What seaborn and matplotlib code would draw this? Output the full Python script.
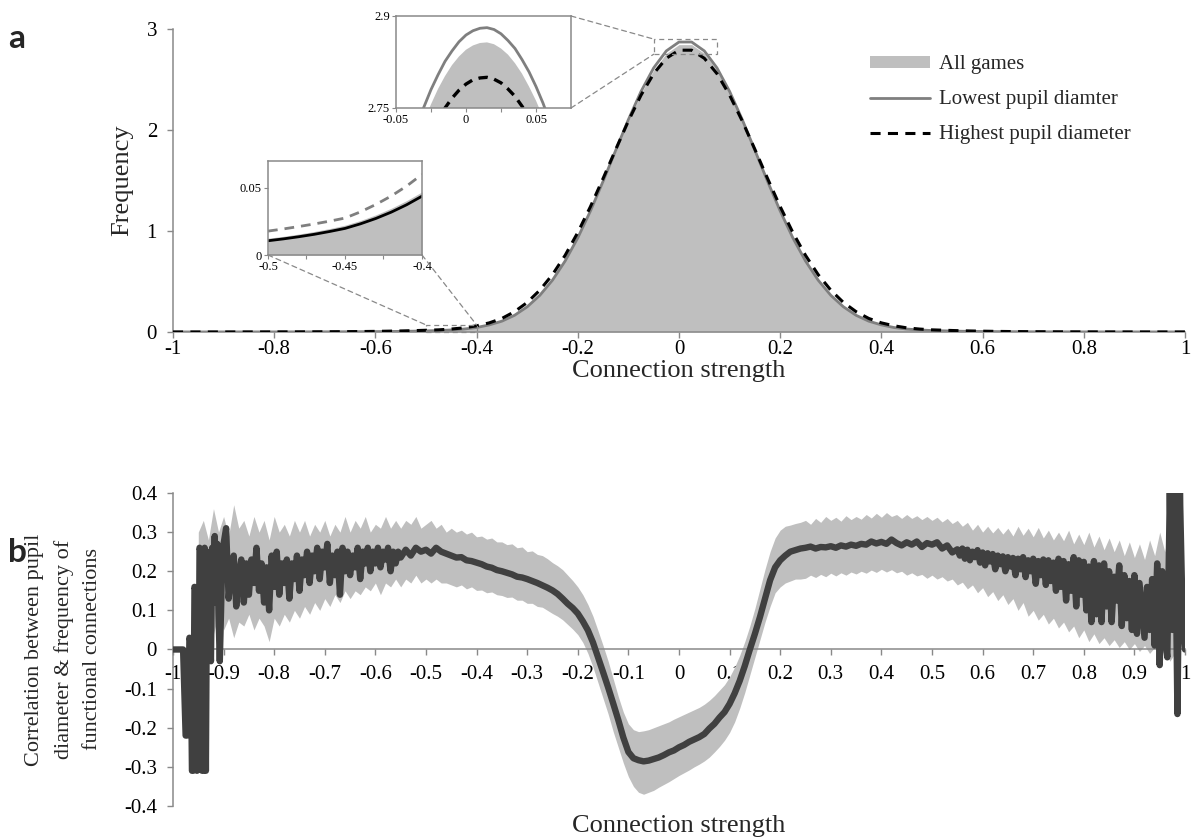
import numpy as np
import matplotlib
matplotlib.use("Agg")
import matplotlib.pyplot as plt
from matplotlib.patches import Rectangle, ConnectionPatch, Patch
from matplotlib.lines import Line2D
import seaborn as sns

# ---------------- Panel a data ----------------
x_a = np.round(np.arange(-40, 41) * 0.025, 3)  # -1 .. 1 step 0.025
all_games = [
    0, 0.0001, 0.0001, 0.0001, 0.0002, 0.0002, 0.0003, 0.0004, 0.0005, 0.0006,
    0.0008, 0.001, 0.0013, 0.0017, 0.0023, 0.003, 0.004, 0.005, 0.007, 0.009,
    0.012, 0.016, 0.022, 0.032, 0.047, 0.075, 0.112, 0.170, 0.254, 0.368,
    0.517, 0.705, 0.932, 1.194, 1.484, 1.787, 2.087, 2.362, 2.592, 2.758,
    2.845,
    2.845, 2.758, 2.592, 2.362, 2.087, 1.787, 1.484, 1.194, 0.932, 0.705,
    0.517, 0.368, 0.254, 0.170, 0.112, 0.075, 0.047, 0.032, 0.022, 0.016,
    0.012, 0.009, 0.007, 0.005, 0.004, 0.003, 0.0023, 0.0017, 0.0013, 0.001,
    0.0008, 0.0006, 0.0005, 0.0004, 0.0003, 0.0002, 0.0002, 0.0001, 0.0001, 0.0001]
lowest_pupil = [
    0, 0, 0.0001, 0.0001, 0.0001, 0.0002, 0.0002, 0.0003, 0.0004, 0.0005,
    0.0007, 0.0009, 0.0012, 0.0015, 0.002, 0.0027, 0.0035, 0.0045, 0.006, 0.008,
    0.011, 0.014, 0.020, 0.029, 0.044, 0.070, 0.107, 0.165, 0.249, 0.363,
    0.513, 0.703, 0.932, 1.198, 1.492, 1.799, 2.103, 2.382, 2.615, 2.783,
    2.871,
    2.871, 2.783, 2.615, 2.382, 2.103, 1.799, 1.492, 1.198, 0.932, 0.703,
    0.513, 0.363, 0.249, 0.165, 0.107, 0.070, 0.044, 0.029, 0.020, 0.014,
    0.011, 0.008, 0.006, 0.0045, 0.0035, 0.0027, 0.002, 0.0015, 0.0012, 0.0009,
    0.0007, 0.0005, 0.0004, 0.0003, 0.0002, 0.0002, 0.0001, 0.0001, 0.0001, 0]
highest_pupil = [
    0, 0.0001, 0.0001, 0.0002, 0.0002, 0.0003, 0.0004, 0.0005, 0.0007, 0.0009,
    0.0012, 0.0015, 0.002, 0.0026, 0.0035, 0.0045, 0.006, 0.008, 0.010, 0.013,
    0.017, 0.021, 0.029, 0.041, 0.061, 0.090, 0.134, 0.201, 0.292, 0.414,
    0.568, 0.759, 0.985, 1.241, 1.520, 1.808, 2.089, 2.345, 2.558, 2.710,
    2.790,
    2.790, 2.710, 2.558, 2.345, 2.089, 1.808, 1.520, 1.241, 0.985, 0.759,
    0.568, 0.414, 0.292, 0.201, 0.134, 0.090, 0.061, 0.041, 0.029, 0.021,
    0.017, 0.013, 0.010, 0.008, 0.006, 0.0045, 0.0035, 0.0026, 0.002, 0.0015,
    0.0012, 0.0009, 0.0007, 0.0005, 0.0004, 0.0003, 0.0002, 0.0002, 0.0001, 0.0001]

# top inset (peak zoom)
x_top = np.round(np.arange(-10, 16) * 0.005, 3)  # -0.05 .. 0.075
all_top = [2.589, 2.628, 2.665, 2.698, 2.729, 2.756, 2.781, 2.802, 2.820, 2.834,
           2.845, 2.852, 2.856, 2.857, 2.854, 2.847, 2.837, 2.823, 2.806, 2.785,
           2.762, 2.735, 2.705, 2.672, 2.636, 2.597]
low_top = [2.611, 2.650, 2.687, 2.721, 2.752, 2.780, 2.804, 2.826, 2.843, 2.858,
           2.869, 2.876, 2.880, 2.881, 2.878, 2.871, 2.860, 2.847, 2.829, 2.809,
           2.785, 2.758, 2.727, 2.694, 2.658, 2.619]
high_top = [2.554, 2.590, 2.624, 2.655, 2.683, 2.708, 2.730, 2.750, 2.766, 2.779,
            2.789, 2.796, 2.799, 2.800, 2.797, 2.791, 2.781, 2.769, 2.753, 2.734,
            2.713, 2.688, 2.660, 2.630, 2.597, 2.562]

# left inset (tail zoom)
x_tail = np.round(np.arange(-50, -39) * 0.01, 2)  # -0.5 .. -0.4
all_tail = [0.0125, 0.0139, 0.0156, 0.0175, 0.0197, 0.0222, 0.0257, 0.0299, 0.0348, 0.0405, 0.0470]
solid_tail = [0.0106, 0.0120, 0.0136, 0.0154, 0.0175, 0.0198, 0.0232, 0.0272, 0.0319, 0.0374, 0.0438]
dashed_tail = [0.0178, 0.0194, 0.0212, 0.0231, 0.0252, 0.0275, 0.0321, 0.0376, 0.0439, 0.0513, 0.0600]

# ---------------- Panel b data ----------------
x_mean = np.concatenate([
    -1.0 + np.arange(5) * 0.005,      # -1.000 .. -0.980
    -0.975 + np.arange(30) * 0.0025,  # -0.975 .. -0.9025
    -0.9 + np.arange(70) * 0.005,     # -0.900 .. -0.555
    -0.55 + np.arange(111) * 0.01,    # -0.55 .. 0.55
    0.555 + np.arange(69) * 0.005,    # 0.555 .. 0.895
    0.9 + np.arange(21) * 0.005])     # 0.900 .. 1.000
mean_corr = [
    # -1.000 .. -0.980
    0, 0, 0, 0, 0,
    # -0.975 .. -0.9025
    -0.22, -0.22, -0.21, 0.03, 0.02, -0.31, -0.31, 0.16, 0.15, -0.31,
    -0.30, 0.26, 0.25, -0.31, -0.31, 0.26, -0.31, 0.25, 0.17, 0.05,
    -0.03, 0.26, 0.15, 0.29, 0.12, 0.27, 0.09, -0.03, 0.10, 0.25,
    # -0.900 .. -0.555
    0.27, 0.31, 0.13, 0.20, 0.24, 0.11, 0.19, 0.23, 0.12, 0.22,
    0.14, 0.23, 0.17, 0.26, 0.15, 0.22, 0.12, 0.21, 0.10, 0.24,
    0.16, 0.25, 0.14, 0.22, 0.17, 0.23, 0.13, 0.22, 0.18, 0.24,
    0.15, 0.23, 0.19, 0.25, 0.17, 0.24, 0.20, 0.26, 0.18, 0.25,
    0.21, 0.27, 0.17, 0.24, 0.19, 0.25, 0.14, 0.26, 0.20, 0.25,
    0.19, 0.24, 0.21, 0.26, 0.18, 0.25, 0.22, 0.26, 0.20, 0.25,
    0.22, 0.26, 0.21, 0.25, 0.23, 0.26, 0.20, 0.25, 0.22, 0.25,
    # -0.55 .. 0.55
    0.235, 0.255, 0.24, 0.26, 0.25, 0.255, 0.245, 0.26, 0.25, 0.245,
    0.24, 0.235, 0.236, 0.228, 0.226, 0.222, 0.218, 0.212, 0.209, 0.203,
    0.200, 0.196, 0.192, 0.186, 0.184, 0.180, 0.175, 0.170, 0.164, 0.158,
    0.151, 0.142, 0.130, 0.117, 0.106, 0.092, 0.072, 0.049, 0.018, -0.020,
    -0.058, -0.097, -0.138, -0.180, -0.225, -0.262, -0.278, -0.283, -0.286, -0.284,
    -0.280, -0.276, -0.270, -0.263, -0.258, -0.250, -0.244, -0.236, -0.230, -0.224,
    -0.216, -0.202, -0.190, -0.174, -0.160, -0.139, -0.112, -0.080, -0.042, 0.000,
    0.040, 0.083, 0.130, 0.177, 0.210, 0.228, 0.240, 0.250, 0.254, 0.258,
    0.260, 0.263, 0.258, 0.262, 0.261, 0.264, 0.260, 0.266, 0.263, 0.268,
    0.265, 0.270, 0.268, 0.276, 0.271, 0.275, 0.270, 0.281, 0.272, 0.266,
    0.274, 0.268, 0.276, 0.262, 0.272, 0.268, 0.274, 0.258, 0.266, 0.248,
    0.256,
    # 0.555 .. 0.895
    0.240, 0.258, 0.232, 0.255, 0.228, 0.250, 0.236, 0.254, 0.222, 0.248,
    0.215, 0.246, 0.225, 0.244, 0.205, 0.240, 0.218, 0.238, 0.200, 0.236,
    0.212, 0.234, 0.190, 0.232, 0.205, 0.236, 0.185, 0.228, 0.200, 0.232,
    0.168, 0.226, 0.190, 0.230, 0.165, 0.228, 0.175, 0.222, 0.150, 0.232,
    0.160, 0.226, 0.125, 0.218, 0.150, 0.236, 0.110, 0.228, 0.140, 0.224,
    0.100, 0.212, 0.070, 0.226, 0.090, 0.215, 0.070, 0.220, 0.110, 0.200,
    0.070, 0.186, 0.125, 0.215, 0.060, 0.190, 0.080, 0.175, 0.050,
    # 0.900 .. 1.000
    0.190, 0.040, 0.170, 0.100, 0.030, 0.160, 0.050, 0.180, 0.010, 0.220,
    -0.040, 0.200, 0.040, -0.020, 0.400, 0.050, 0.400, -0.165, 0.400, 0.100,
    0.000]

x_band = np.round(np.arange(-95, 99) * 0.01, 2)  # -0.95 .. 0.98
band_hi = [
    0.30, 0.33, 0.28, 0.36, 0.30, 0.34, 0.29, 0.37, 0.31, 0.33,
    0.29, 0.34, 0.30, 0.33, 0.28, 0.34, 0.30, 0.32, 0.29, 0.33,
    0.30, 0.33, 0.29, 0.32, 0.30, 0.33, 0.29, 0.32, 0.30, 0.34,
    0.30, 0.33, 0.31, 0.34, 0.30, 0.32, 0.31, 0.34, 0.31, 0.33,
    0.31, 0.33, 0.32, 0.34, 0.31, 0.32, 0.33, 0.31, 0.32, 0.30,
    0.31, 0.30, 0.305, 0.295, 0.30, 0.288, 0.29, 0.282, 0.285, 0.275,
    0.275, 0.268, 0.27, 0.26, 0.262, 0.25, 0.252, 0.243, 0.24, 0.232,
    0.222, 0.214, 0.204, 0.19, 0.176, 0.16, 0.14, 0.115, 0.085, 0.048,
    0.01, -0.03, -0.075, -0.12, -0.16, -0.19, -0.205, -0.21, -0.208, -0.205,
    -0.20, -0.195, -0.19, -0.185, -0.178, -0.172, -0.166, -0.16, -0.154, -0.148,
    -0.14, -0.13, -0.118, -0.104, -0.09, -0.07, -0.045, -0.015, 0.02, 0.06,
    0.105, 0.155, 0.205, 0.25, 0.285, 0.305, 0.315, 0.318, 0.322, 0.325,
    0.33, 0.32, 0.335, 0.325, 0.34, 0.33, 0.338, 0.328, 0.342, 0.332,
    0.34, 0.333, 0.345, 0.336, 0.348, 0.338, 0.35, 0.34, 0.345, 0.335,
    0.345, 0.335, 0.342, 0.332, 0.34, 0.33, 0.338, 0.326, 0.335, 0.322,
    0.33, 0.315, 0.325, 0.305, 0.32, 0.3, 0.315, 0.298, 0.312, 0.295,
    0.31, 0.29, 0.315, 0.292, 0.31, 0.288, 0.312, 0.285, 0.305, 0.28,
    0.3, 0.278, 0.305, 0.27, 0.295, 0.268, 0.3, 0.262, 0.29, 0.255,
    0.285, 0.25, 0.28, 0.24, 0.275, 0.235, 0.27, 0.23, 0.28, 0.24,
    0.3, 0.25, 0.32, 0.26]
band_lo = [
    0.12, 0.06, 0.10, 0.04, 0.09, 0.05, 0.08, 0.03, 0.07, 0.06,
    0.09, 0.05, 0.08, 0.06, 0.02, 0.08, 0.06, 0.09, 0.07, 0.10,
    0.08, 0.11, 0.09, 0.12, 0.10, 0.13, 0.11, 0.14, 0.12, 0.15,
    0.13, 0.15, 0.14, 0.16, 0.15, 0.17, 0.14, 0.17, 0.16, 0.18,
    0.16, 0.18, 0.17, 0.19, 0.17, 0.18, 0.17, 0.18, 0.17, 0.17,
    0.165, 0.16, 0.165, 0.155, 0.16, 0.151, 0.152, 0.145, 0.147, 0.14,
    0.138, 0.133, 0.134, 0.126, 0.126, 0.118, 0.118, 0.11, 0.108, 0.1,
    0.092, 0.085, 0.076, 0.064, 0.052, 0.038, 0.018, -0.01, -0.045, -0.085,
    -0.125, -0.165, -0.21, -0.25, -0.29, -0.325, -0.35, -0.365, -0.37, -0.365,
    -0.36, -0.352, -0.345, -0.338, -0.33, -0.322, -0.315, -0.308, -0.3, -0.293,
    -0.285, -0.275, -0.262, -0.248, -0.232, -0.212, -0.185, -0.15, -0.11, -0.065,
    -0.02, 0.025, 0.07, 0.11, 0.145, 0.16, 0.17, 0.175, 0.18, 0.18,
    0.182, 0.19, 0.184, 0.192, 0.186, 0.195, 0.188, 0.196, 0.19, 0.198,
    0.193, 0.2, 0.195, 0.203, 0.197, 0.205, 0.198, 0.204, 0.196, 0.2,
    0.19, 0.196, 0.188, 0.192, 0.182, 0.19, 0.18, 0.186, 0.175, 0.18,
    0.165, 0.172, 0.155, 0.165, 0.145, 0.158, 0.135, 0.148, 0.125, 0.14,
    0.115, 0.13, 0.1, 0.12, 0.085, 0.1, 0.075, 0.09, 0.065, 0.08,
    0.055, 0.07, 0.045, 0.06, 0.03, 0.05, 0.02, 0.04, 0.015, 0.03,
    0.01, 0.025, 0.005, 0.02, 0.0, 0.015, -0.005, 0.01, -0.01, 0.005,
    -0.02, 0.0, -0.03, -0.01]

xticks_a = [-1, -0.8, -0.6, -0.4, -0.2, 0, 0.2, 0.4, 0.6, 0.8, 1]
yticks_a = [0, 1, 2, 3]
xticks_b = np.round(np.arange(-10, 11) * 0.1, 1)
yticks_b = np.round(np.arange(-4, 5) * 0.1, 1)

legend_labels = ["All games", "Lowest pupil diamter", "Highest pupil diameter"]

assert len(all_games) == len(x_a) == len(lowest_pupil) == len(highest_pupil)
assert len(mean_corr) == len(x_mean), (len(mean_corr), len(x_mean))
assert len(band_hi) == len(band_lo) == len(x_band)

# ---------------- style ----------------
sns.set_theme(style="white")
plt.rcParams['font.family'] = ['Liberation Serif', 'DejaVu Serif']
FILL = '#bfbfbf'
GRAYLINE = '#7f7f7f'
DARK = '#404040'
SPINE = '#898989'

def fmt(v):
    return f"{v:g}"

fig = plt.figure(figsize=(11.93, 8.4), dpi=100)

def style_axes(ax, fs=15, length=4.5, xpad=2, ypad=7):
    for s in ['top', 'right']:
        ax.spines[s].set_visible(False)
    for s in ['left', 'bottom']:
        ax.spines[s].set_color(SPINE)
        ax.spines[s].set_linewidth(1.1)
    ax.tick_params(axis='both', which='both', direction='out', color=SPINE,
                   width=1.0, length=length, labelsize=fs, labelcolor='black')
    ax.tick_params(axis='x', pad=xpad, bottom=True)
    ax.tick_params(axis='y', pad=ypad, left=True)

# ---------------- Panel a ----------------
ax = fig.add_axes([0.145, 0.6048, 0.8483, 0.3607])
ax.fill_between(x_a, all_games, 0, color=FILL, lw=0, zorder=1)
sns.lineplot(x=x_a, y=lowest_pupil, ax=ax, color=GRAYLINE, lw=2.0, legend=False, zorder=2)
sns.lineplot(x=x_a, y=highest_pupil, ax=ax, color='black', lw=2.2,
             linestyle=(0, (3.3, 2.4)), legend=False, zorder=3)
ax.set_xlim(-1, 1)
ax.set_ylim(0, 3)
ax.set_xticks(xticks_a)
ax.set_xticklabels([fmt(v) for v in xticks_a])
ax.set_yticks(yticks_a)
ax.set_yticklabels([fmt(v) for v in yticks_a])
style_axes(ax, xpad=1)
ax.set_xlabel("Connection strength", fontsize=19)
ax.xaxis.set_label_coords(0.5, -0.093)
ax.xaxis.label.set_va('top')
ax.set_ylabel("Frequency", fontsize=19)
ax.yaxis.set_label_coords(-0.0395, 0.5)

handles = [Patch(facecolor=FILL, edgecolor='none'),
           Line2D([], [], color=GRAYLINE, lw=2.0),
           Line2D([], [], color='black', lw=2.2, linestyle=(0, (3.3, 2.4)))]
ax.legend(handles, legend_labels, loc='upper left', bbox_to_anchor=(870 / 1193, 1 - 55 / 840),
          bbox_transform=fig.transFigure, frameon=False, fontsize=15, handlelength=2.9,
          handleheight=0.5, handletextpad=0.4, labelspacing=0.78, borderpad=0, borderaxespad=0)

# dashed zoom rectangles on main axes
ax.add_patch(Rectangle((-0.05, 2.75), 0.125, 0.15, fill=False, ec=SPINE, lw=0.9,
                       ls=(0, (4, 3)), zorder=4))
ax.add_patch(Rectangle((-0.5, 0.0), 0.1, 0.07, fill=False, ec=SPINE, lw=0.9,
                       ls=(0, (4, 3)), zorder=4, clip_on=False))

def style_inset(axi):
    for s in axi.spines.values():
        s.set_visible(True)
        s.set_color(SPINE)
        s.set_linewidth(1.1)
    axi.set_facecolor('white')
    axi.tick_params(axis='both', which='both', direction='out', color=SPINE, width=0.8,
                    length=3, labelsize=9, pad=1.5, labelcolor='black')
    axi.tick_params(axis='x', bottom=True)
    axi.tick_params(axis='y', left=True)

# top inset
ax_t = fig.add_axes([396 / 1193, 1 - 108 / 840, 175 / 1193, 92 / 840])
ax_t.fill_between(x_top, all_top, 0, color=FILL, lw=0)
sns.lineplot(x=x_top, y=low_top, ax=ax_t, color=GRAYLINE, lw=2.0, legend=False)
sns.lineplot(x=x_top, y=high_top, ax=ax_t, color='black', lw=2.4,
             linestyle=(0, (2.8, 2.0)), legend=False)
ax_t.set_xlim(-0.05, 0.075)
ax_t.set_ylim(2.75, 2.9)
ax_t.set_xticks([-0.05, -0.025, 0, 0.025, 0.05])
ax_t.set_xticklabels(['-0.05', '', '0', '', '0.05'])
ax_t.set_yticks([2.75, 2.9])
ax_t.set_yticklabels(['2.75', '2.9'])
style_inset(ax_t)

# left inset
ax_l = fig.add_axes([268 / 1193, 1 - 255 / 840, 154 / 1193, 94 / 840])
ax_l.fill_between(x_tail, all_tail, 0, color=FILL, lw=0)
sns.lineplot(x=x_tail, y=dashed_tail, ax=ax_l, color=GRAYLINE, lw=2.0,
             linestyle=(0, (3.5, 2.5)), legend=False)
sns.lineplot(x=x_tail, y=solid_tail, ax=ax_l, color='black', lw=2.0, legend=False)
ax_l.set_xlim(-0.5, -0.4)
ax_l.set_ylim(0, 0.07)
ax_l.set_xticks([-0.5, -0.475, -0.45, -0.425, -0.4])
ax_l.set_xticklabels(['-0.5', '', '-0.45', '', '-0.4'])
ax_l.set_yticks([0, 0.05])
ax_l.set_yticklabels(['0', '0.05'])
style_inset(ax_l)

for (axi, xyA, xyB) in [(ax_t, (1, 1), (-0.05, 2.9)), (ax_t, (1, 0), (-0.05, 2.75)),
                        (ax_l, (0, 0), (-0.5, 0.07)), (ax_l, (1, 0), (-0.4, 0.07))]:
    cp = ConnectionPatch(xyA=xyA, coordsA=axi.transAxes, xyB=xyB, coordsB=ax.transData,
                         color=SPINE, lw=0.9, ls=(0, (4, 3)))
    fig.add_artist(cp)

# ---------------- Panel b ----------------
axb = fig.add_axes([0.145, 0.0405, 0.8483, 0.3726])
axb.fill_between(x_band, band_lo, band_hi, color=FILL, lw=0, zorder=1)
sns.lineplot(x=x_mean, y=mean_corr, ax=axb, color=DARK, lw=4.6, sort=False,
             estimator=None, legend=False, zorder=3,
             solid_capstyle='round', solid_joinstyle='round')
axb.set_xlim(-1, 1)
axb.set_ylim(-0.4, 0.4)
axb.set_xticks(xticks_b)
axb.set_xticklabels([fmt(v) for v in xticks_b])
axb.set_yticks(yticks_b)
axb.set_yticklabels([fmt(v) for v in yticks_b])
style_axes(axb, xpad=6.5)
axb.spines['bottom'].set_position(('data', 0))
axb.spines['bottom'].set_zorder(2)
axb.set_xlabel("Connection strength", fontsize=19)
axb.xaxis.set_label_coords(0.5, -0.03)
axb.xaxis.label.set_va('top')
axb.set_ylabel("Correlation between pupil\ndiameter & frequency of\nfunctional connections",
               fontsize=16, linespacing=1.65)
axb.yaxis.set_label_coords(-0.07, 0.5)

# panel letters
fig.text(8 / 1193, 1 - 48 / 840, 'a', fontsize=24, fontweight='bold',
         family=['Lato', 'DejaVu Sans'], va='baseline', ha='left')
fig.text(8 / 1193, 1 - 562 / 840, 'b', fontsize=24, fontweight='bold',
         family=['Lato', 'DejaVu Sans'], va='baseline', ha='left')

fig.savefig('out.png', dpi=100)
